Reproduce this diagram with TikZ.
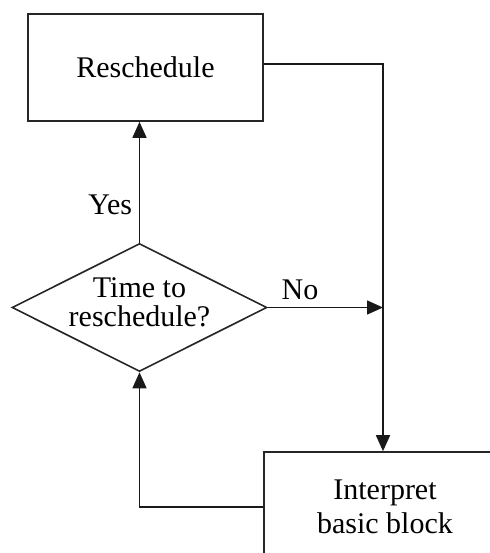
\documentclass[tikz,border=0pt]{standalone}
\usepackage{fontspec}
\setmainfont{Liberation Serif}
\usetikzlibrary{shapes.geometric,arrows.meta,positioning}
\tikzset{%
blocknode/.style={rectangle, draw=black!85, line width=0.8pt, align=center, font=\fontsize{15}{17}\selectfont},
decnode/.style={diamond, draw=black!85, line width=0.8pt, aspect=2, inner sep=-4pt, text depth=5pt, minimum width=127.5pt, minimum height=64pt, align=center, font=\fontsize{15}{14.5}\selectfont},
pt/.style={draw=black!90, line width=0.8pt, -{Triangle[length=8pt,width=7pt]}},
lbl/.style={font=\fontsize{15}{17}\selectfont}
}
\begin{document}
\begin{tikzpicture}[x=0.5pt, y=-0.5pt]
		\useasboundingbox (0,0) rectangle (490,553);
		\clip (0,0) rectangle (490,553);
		\node[blocknode, minimum width=117.5pt, minimum height=53.5pt] (resched) at (145.5,67.5) {Reschedule};
		\node[decnode] (decide) at (139.5,307.5) {Time to\\reschedule?};
		\node[blocknode, minimum width=121pt, minimum height=55pt] (interp) at (385,507) {Interpret\\basic block};
		\coordinate (corner) at (383,64);
		
		\draw[pt] (decide.north) -- node [lbl, pos=0.31, left] {Yes} (decide.north |- resched.south);
		\draw[pt] (decide.east) -- node [lbl, pos=0.28, above] {No} (decide.east -| corner);
		\draw[pt] (resched.east |- corner) -- (corner) -- (interp.north -| corner);
		\draw[pt] (interp.west) -| (decide.south);
	\end{tikzpicture}
\end{document}
